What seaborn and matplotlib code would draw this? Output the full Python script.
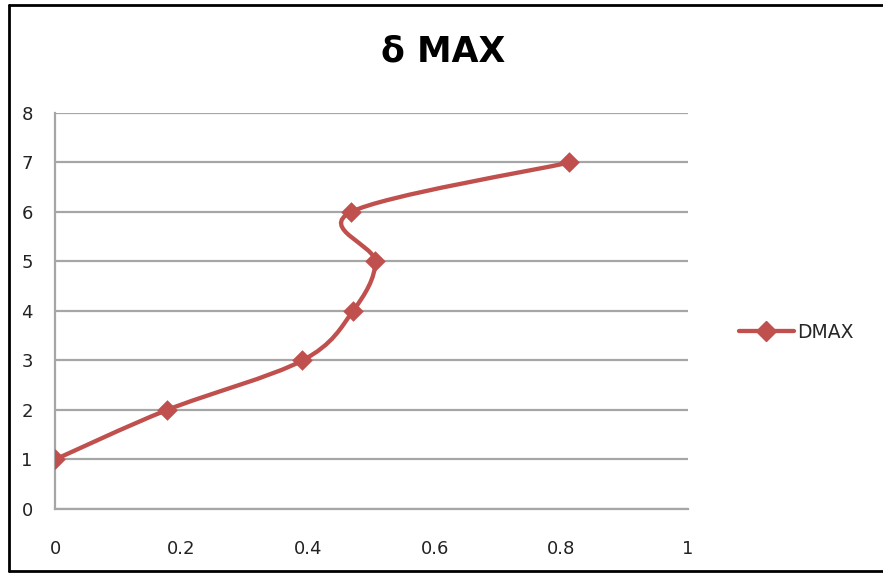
import numpy as np
import matplotlib
matplotlib.use("Agg")
import matplotlib.pyplot as plt
import seaborn as sns
from matplotlib.path import Path
from matplotlib.patches import PathPatch
from matplotlib.lines import Line2D

# data
dmax = [0.0, 0.177, 0.391, 0.471, 0.506, 0.468, 0.813]
level = [1, 2, 3, 4, 5, 6, 7]
series_name = "DMAX"
title = "δ MAX"

red = "#C0504D"
grid_col = "#A6A6A6"

sns.set_style("white")
plt.rcParams["font.family"] = ["DejaVu Sans"]

fig = plt.figure(figsize=(8.83, 5.73), dpi=100)
ax = fig.add_axes([0.0623, 0.1117, 0.7165, 0.6911])


def smooth_path(xs, ys):
    # Excel style smoothed line: cubic bezier with catmull-rom tangents
    pts = np.column_stack([xs, ys]).astype(float)
    ext = np.vstack([pts[0], pts, pts[-1]])
    verts = [pts[0]]
    codes = [Path.MOVETO]
    for i in range(1, len(ext) - 2):
        p0, p1, p2, p3 = ext[i - 1], ext[i], ext[i + 1], ext[i + 2]
        verts += [p1 + (p2 - p0) / 6, p2 - (p3 - p1) / 6, p2]
        codes += [Path.CURVE4] * 3
    return Path(verts, codes)


ax.add_patch(PathPatch(smooth_path(dmax, level), facecolor="none",
                       edgecolor=red, lw=3.1, capstyle="round", zorder=3))
sns.scatterplot(x=dmax, y=level, marker="D", s=110, color=red,
                edgecolor=red, linewidth=0, ax=ax, zorder=4)

ax.set_xlim(0, 1)
ax.set_ylim(0, 8)
ax.set_xticks(np.arange(0, 1.01, 0.2))
ax.set_xticklabels(["0", "0.2", "0.4", "0.6", "0.8", "1"])
ax.set_yticks(range(0, 9))
ax.yaxis.grid(True, color=grid_col, lw=1.6)
ax.set_axisbelow(True)
for s in ["top", "right"]:
    ax.spines[s].set_visible(False)
for s in ["left", "bottom"]:
    ax.spines[s].set_color(grid_col)
    ax.spines[s].set_linewidth(1.6)
ax.tick_params(axis="both", length=0, labelsize=13, colors="#222222")
ax.tick_params(axis="y", pad=16)
ax.tick_params(axis="x", pad=22)
ax.set_xlabel("")
ax.set_ylabel("")

fig.text(0.502, 0.91, title, ha="center", va="center",
         fontsize=25, fontweight="bold", color="black")

handle = Line2D([], [], color=red, lw=3.1, marker="D", markersize=10)
fig.legend([handle], [series_name], loc="center left",
           bbox_to_anchor=(0.818, 0.42), frameon=False, fontsize=13.5,
           handlelength=2.9, handletextpad=0.2)

# outer chart frame
fig.add_artist(Line2D([0.0102, 1.0], [0.991, 0.991], color="black", lw=2))
fig.add_artist(Line2D([0.0102, 0.0102], [0.0035, 0.991], color="black", lw=2))
fig.add_artist(Line2D([0.0102, 1.0], [0.0035, 0.0035], color="black", lw=2))

fig.savefig("out.png", dpi=100)
